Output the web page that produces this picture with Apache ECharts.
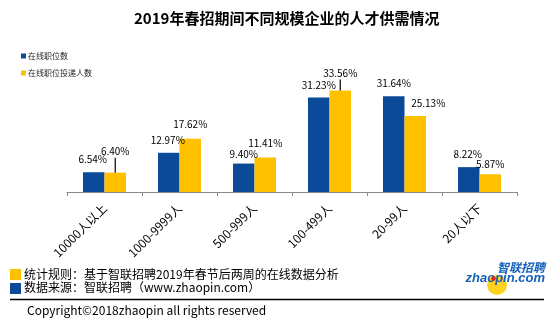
<!DOCTYPE html>
<html><head><meta charset="utf-8">
<script src="https://cdn.jsdelivr.net/npm/echarts@6/dist/echarts.min.js"></script>
<style>html,body{margin:0;padding:0;background:#fff}#c{width:554px;height:323px}</style>
</head><body><div id="c"></div>
<script>
const categories = ['10000人以上','1000-9999人','500-999人','100-499人','20-99人','20人以下'];
const seriesNames = ['在线职位数','在线职位投递人数'];
const jobPosts = [6.54,12.97,9.40,31.23,31.64,8.22];
const applicants = [6.40,17.62,11.41,33.56,25.13,5.87];

const BLUE = '#0B4A98', YELLOW = '#FFC000';
const FONT = '"Noto Sans CJK SC","Noto Sans",sans-serif';
const blueNudge = [[-1,-1],[-1,-1],[0,3],[0,0],[0,-1],[-1,-1]];
const yellowNudge = [[0,0],[0,-2],[0,-2],[0,0],[13,-1],[0,2]];
const leaderLen = [15,0,0,11,0,0];

const chart = echarts.init(document.getElementById('c'), null, {renderer:'canvas'});
const pct = v => v.toFixed(2) + '%';
const labelBase = {show:true, position:'top', distance:7, fontSize:10, color:'#000', fontFamily:FONT,
  formatter:p => pct(p.value)};

chart.setOption({
  animation:false,
  backgroundColor:'#fff',
  title:{text:'2019年春招期间不同规模企业的人才供需情况', left:129, top:6,
    textStyle:{fontSize:15, fontWeight:'bold', color:'#000', fontFamily:FONT}},
  legend:{orient:'vertical', left:16, top:47, itemWidth:5, itemHeight:5, itemGap:9, icon:'rect',
    textStyle:{fontSize:8, color:'#222', fontFamily:FONT, padding:[0,0,0,-3]}, data:seriesNames},
  grid:{left:67, right:37, top:71, bottom:131, containLabel:false},
  xAxis:{type:'category', data:categories,
    axisLine:{lineStyle:{color:'#888', width:1}},
    axisTick:{show:true, length:4, lineStyle:{color:'#888'}},
    axisLabel:{rotate:45, fontSize:12, color:'#000', margin:14, fontFamily:FONT, interval:0}},
  yAxis:{type:'value', min:0, max:40, show:false, splitLine:{show:false}},
  series:[
    {name:seriesNames[0], type:'bar', barWidth:21.5, barGap:'0%', itemStyle:{color:BLUE},
      label:labelBase,
      labelLayout:function(p){ const n = blueNudge[p.dataIndex]; return {dx:n[0], dy:n[1]}; },
      data:jobPosts},
    {name:seriesNames[1], type:'bar', barWidth:21.5, barGap:'0%', itemStyle:{color:YELLOW},
      label:labelBase,
      labelLayout:function(p){ const n = yellowNudge[p.dataIndex]; return {dx:n[0], dy:n[1]}; },
      data:applicants.map((v,i)=> leaderLen[i] ? {value:v, label:{
        distance:0,
        formatter:'{v|' + pct(v) + '}\n{l|}',
        rich:{v:{fontSize:10, lineHeight:13, color:'#000', fontFamily:FONT, align:'center'},
              l:{width:1.2, height:leaderLen[i], backgroundColor:'#000', align:'center'}}
      }} : v)}
  ],
  graphic:[
    {type:'rect', shape:{x:10, y:269, width:11, height:11}, style:{fill:YELLOW}},
    {type:'rect', shape:{x:10, y:283, width:11, height:11}, style:{fill:BLUE}},
    {type:'text', x:24, y:274, style:{text:'统计规则：基于智联招聘2019年春节后两周的在线数据分析', fontSize:12, fill:'#000', fontFamily:FONT, verticalAlign:'middle'}},
    {type:'text', x:24, y:287, style:{text:'数据来源：智联招聘（www.zhaopin.com）', fontSize:12, fill:'#000', fontFamily:FONT, verticalAlign:'middle'}},
    {type:'line', shape:{x1:10, y1:299.5, x2:544, y2:299.5}, style:{stroke:'#000', lineWidth:1.3}},
    {type:'text', x:27, y:310, style:{text:'Copyright©2018zhaopin all rights reserved', fontSize:12, fill:'#000', fontFamily:FONT, verticalAlign:'middle'}},
    {type:'circle', shape:{cx:497, cy:285, r:10}, style:{fill:'#FFD21F'}},
    {type:'text', x:545, y:267, style:{text:'智联招聘', fontSize:12, fontWeight:'bold', fontStyle:'italic', fill:'#1560B8', fontFamily:FONT, align:'right', verticalAlign:'middle'}},
    {type:'text', x:545, y:278, style:{text:'zhaopin.com', fontSize:13, fontWeight:'bold', fontStyle:'italic', fill:'#1560B8', fontFamily:'"Liberation Sans",Arial,sans-serif', align:'right', verticalAlign:'middle'}},
    {type:'circle', shape:{cx:493.5, cy:278.5, r:2.3}, style:{fill:'#E02020'}}
  ]
});
</script></body></html>
